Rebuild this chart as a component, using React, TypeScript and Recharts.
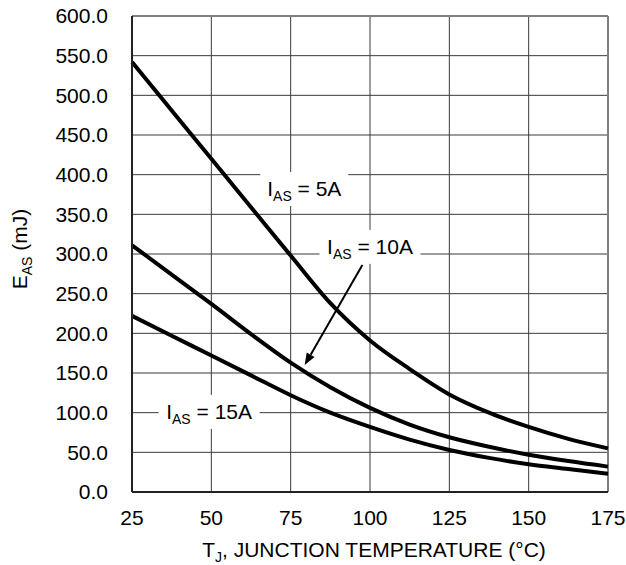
import {
  CartesianGrid,
  Line,
  LineChart,
  ReferenceDot,
  ReferenceLine,
  XAxis,
  YAxis,
} from "recharts";

// junction temperature, °C
const temps = [25, 37.5, 50, 62.5, 75, 87.5, 100, 112.5, 125, 137.5, 150, 162.5, 175];
// avalanche energy, mJ
const eas5A = [542, 481, 420, 359, 298, 238, 191, 155, 123, 100, 82, 67, 55];
const eas10A = [311, 274, 237, 199, 163, 132, 106, 85, 69, 57, 47, 39, 32];
const eas15A = [222, 197, 172, 147, 122, 100, 82, 66, 53, 43, 35, 29, 23];

const xTicks = [25, 50, 75, 100, 125, 150, 175];
const yTicks = [0, 50, 100, 150, 200, 250, 300, 350, 400, 450, 500, 550, 600];

// curve labels: [current, T, E, box width]
const curveLabels: [string, number, number, number][] = [
  ["5A", 79.3, 382, 88],
  ["10A", 100, 309, 101],
  ["15A", 49.3, 101, 101],
];
// arrow from the 10A label to its curve
const arrowFrom = { x: 97.6, y: 286 };
const arrowTo = { x: 79.4, y: 160 };

const data = temps.map((t, i) => ({
  t,
  a5: eas5A[i],
  a10: eas10A[i],
  a15: eas15A[i],
}));

const FONT = 21;
const SUB = 14;

function CurrentLabel(props: any) {
  const { cx, cy, text, boxWidth } = props;
  const h = 34;
  return (
    <g>
      <rect x={cx - boxWidth / 2} y={cy - h / 2} width={boxWidth} height={h} fill="#fff" />
      <text x={cx} y={cy} dy="0.355em" textAnchor="middle" fontSize={FONT} fill="#000">
        <tspan>I</tspan>
        <tspan fontSize={SUB} dy={5}>AS</tspan>
        <tspan dy={-5}>{` = ${text}`}</tspan>
      </text>
    </g>
  );
}

function Arrow(props: any) {
  const { x1, y1, x2, y2 } = props;
  const ang = Math.atan2(y2 - y1, x2 - x1);
  const len = 12;
  const half = 4.5;
  const bx = x2 - len * Math.cos(ang);
  const by = y2 - len * Math.sin(ang);
  const px = -Math.sin(ang) * half;
  const py = Math.cos(ang) * half;
  return (
    <g>
      <line x1={x1} y1={y1} x2={bx} y2={by} stroke="#000" strokeWidth={2} />
      <polygon points={`${x2},${y2} ${bx + px},${by + py} ${bx - px},${by - py}`} fill="#000" />
    </g>
  );
}

function XLabel(props: any) {
  const { x, y, width } = props.viewBox;
  return (
    <text x={x + width / 2 + 4} y={y + 65} textAnchor="middle" fontSize={FONT} fill="#000">
      <tspan>T</tspan>
      <tspan fontSize={SUB} dy={5}>J</tspan>
      <tspan dy={-5}>, JUNCTION TEMPERATURE (°C)</tspan>
    </text>
  );
}

function YLabel(props: any) {
  const { y, height } = props.viewBox;
  const cx = 27;
  const cy = y + height / 2 - 5;
  return (
    <text
      x={cx}
      y={cy}
      transform={`rotate(-90 ${cx} ${cy})`}
      textAnchor="middle"
      fontSize={FONT}
      fill="#000"
    >
      <tspan>E</tspan>
      <tspan fontSize={SUB} dy={5}>AS</tspan>
      <tspan dy={-5}> (mJ)</tspan>
    </text>
  );
}

export default function App() {
  const tick = { fontSize: FONT, fill: "#000" };
  const axisLine = { stroke: "#222", strokeWidth: 2 };
  const curve = { stroke: "#000", strokeWidth: 4, dot: false, isAnimationActive: false };

  return (
    <div
      style={{
        position: "absolute",
        left: 0,
        top: 0,
        width: 626,
        height: 565,
        overflow: "hidden",
        background: "#fff",
        fontFamily: "'Liberation Sans', Arial, sans-serif",
      }}
    >
      <LineChart
        width={626}
        height={565}
        data={data}
        margin={{ top: 16, right: 18, left: 8, bottom: 0 }}
      >
        <CartesianGrid stroke="#3a3a3a" strokeWidth={1} />
        <XAxis
          dataKey="t"
          type="number"
          domain={[25, 175]}
          ticks={xTicks}
          tick={tick}
          tickLine={false}
          tickSize={6}
          tickMargin={12}
          axisLine={axisLine}
          height={73}
          label={<XLabel />}
        />
        <YAxis
          type="number"
          domain={[0, 600]}
          ticks={yTicks}
          tick={tick}
          tickLine={false}
          tickSize={6}
          tickMargin={18}
          tickFormatter={(v: number) => v.toFixed(1)}
          axisLine={axisLine}
          width={124}
          label={<YLabel />}
        />
        <ReferenceLine y={600} stroke="#808080" strokeWidth={2} ifOverflow="visible" />
        <ReferenceLine x={175} stroke="#808080" strokeWidth={2} ifOverflow="visible" />
        {curveLabels.map(([text, t, e, w]) => (
          <ReferenceDot
            key={text}
            x={t}
            y={e}
            ifOverflow="visible"
            shape={(p: any) => <CurrentLabel cx={p.cx} cy={p.cy} text={text} boxWidth={w} />}
          />
        ))}
        <ReferenceLine
          segment={[arrowFrom, arrowTo]}
          ifOverflow="visible"
          shape={(p: any) => <Arrow {...p} />}
        />
        <Line type="monotone" dataKey="a5" {...curve} />
        <Line type="monotone" dataKey="a10" {...curve} />
        <Line type="monotone" dataKey="a15" {...curve} />
      </LineChart>
    </div>
  );
}
